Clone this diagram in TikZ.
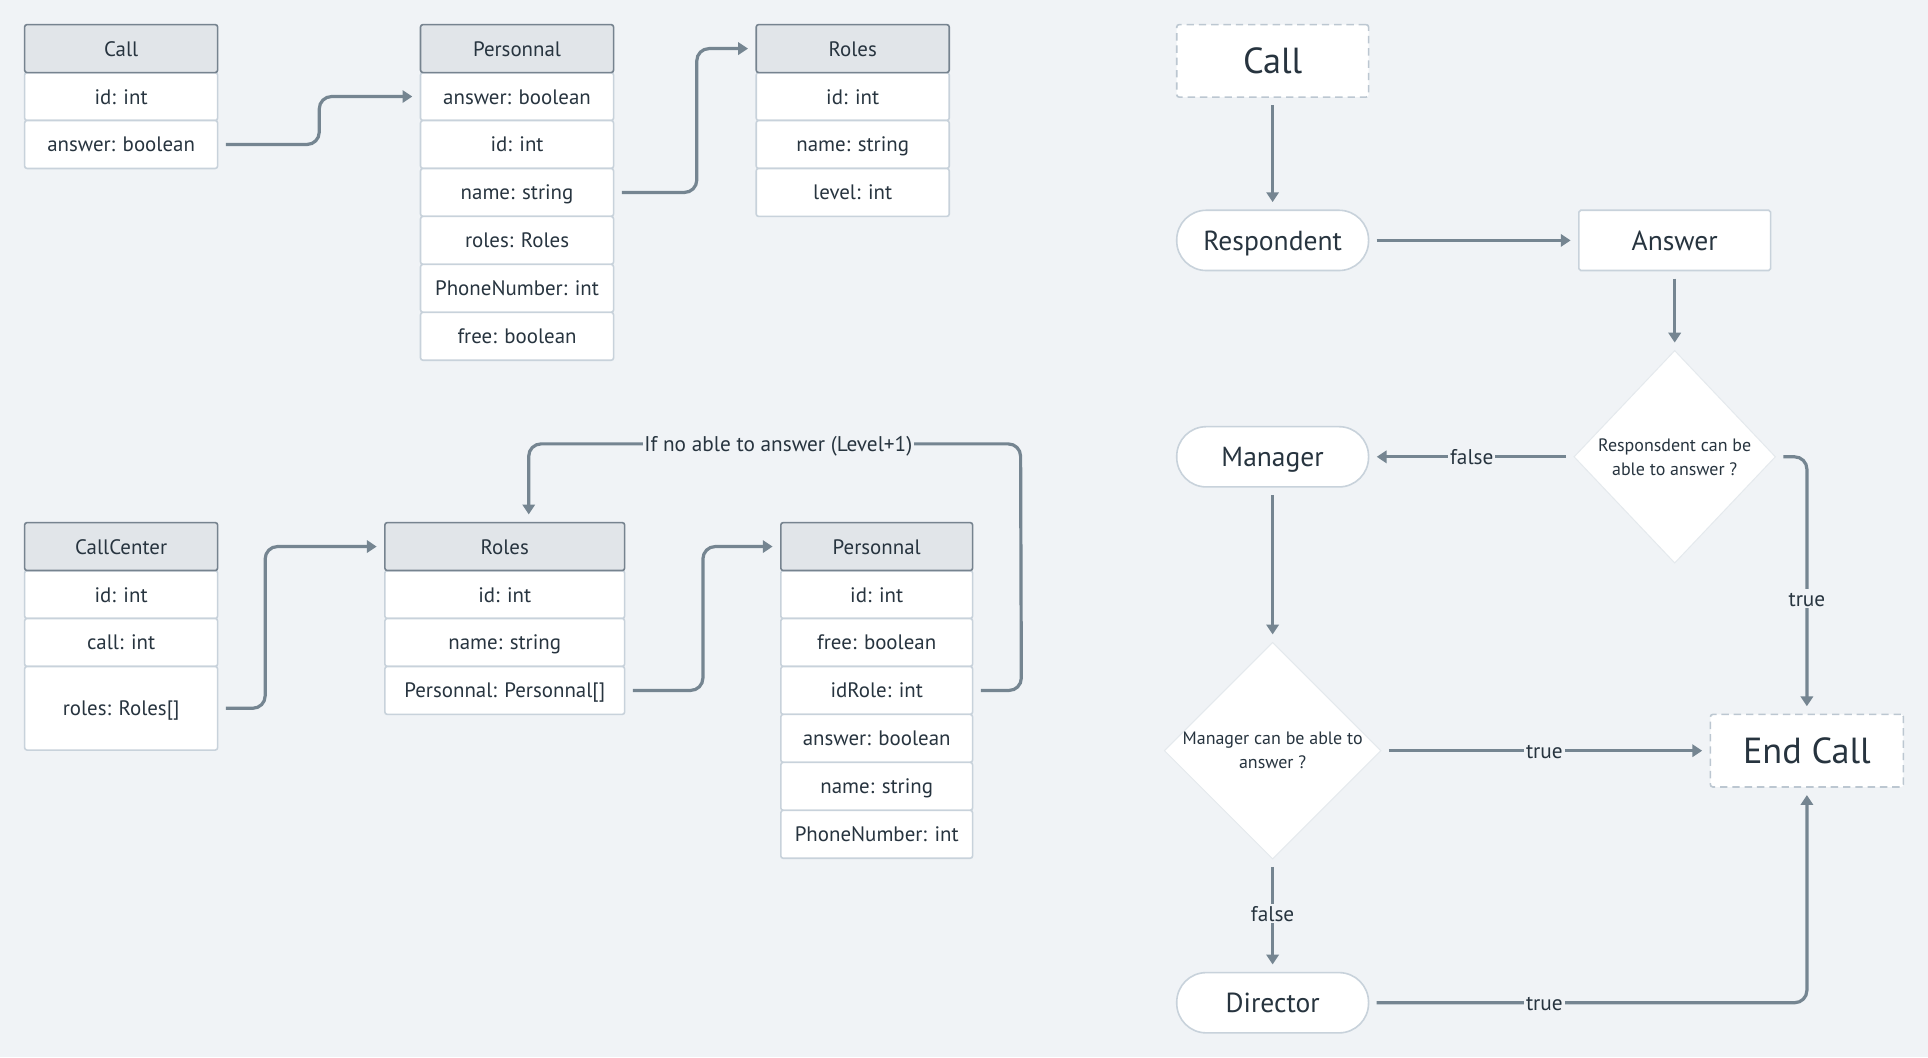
\documentclass[tikz,border=0pt]{standalone}
\usepackage{fontspec}
\setmainfont{PT Sans}
\usetikzlibrary{arrows.meta,shapes.geometric}
\definecolor{bg}{HTML}{F0F3F6}
\definecolor{hdrfill}{HTML}{E1E5E9}
\definecolor{hdrline}{HTML}{76838F}
\definecolor{rowline}{HTML}{C8D2DB}
\definecolor{dashline}{HTML}{BCC7D1}
\definecolor{wire}{HTML}{758591}
\definecolor{ink}{HTML}{27343F}
\definecolor{diaedge}{HTML}{E4E9ED}

\tikzset{
  cell/.style={inner sep=0pt, rounded corners=2pt, line width=1.3pt, text=ink,
    minimum height=39pt, text height=12.2pt, text depth=0pt,
    font=\fontsize{17}{20}\selectfont},
  hdr/.style={cell, draw=hdrline, fill=hdrfill},
  row/.style={cell, draw=rowline, fill=white},
  conn/.style={draw=wire, line width=2.6pt, rounded corners=10pt,
    -{Triangle[length=8pt,width=10pt]}, shorten <=6pt, shorten >=6pt},
  lbl/.style={fill=bg, text=ink, inner sep=1.5pt, text height=12.4pt, text depth=0pt,
    font=\fontsize{17.3}{20}\selectfont},
  termbox/.style={draw=dashline, fill=white, line width=1.3pt, dash pattern=on 6pt off 4pt,
    rounded corners=2pt, minimum width=156pt, minimum height=59pt, text=ink,
    text height=21pt, text depth=0pt, font=\fontsize{29.5}{34}\selectfont},
  stadium/.style={draw=rowline, fill=white, line width=1.3pt, rounded corners=24pt,
    minimum width=156pt, minimum height=49pt, text=ink, text height=16pt, text depth=0pt,
    font=\fontsize{22.4}{26}\selectfont},
  procbox/.style={stadium, rounded corners=1.5pt},
  decision/.style={diamond, draw=diaedge, fill=white, line width=0.8pt, inner sep=0pt,
    align=center, text=ink, font=\fontsize{14.6}{19.5}\selectfont}
}

\begin{document}
\begin{tikzpicture}[x=1pt, y=-1pt]
\fill[bg] (0,0) rectangle (1568,860);
\useasboundingbox (0,0) rectangle (1568,860);

% ---- class Call (top left)
\node[row, minimum width=157pt] (cId)  at (98.5,78.5)  {id: int};
\node[row, minimum width=157pt] (cAns) at (98.5,117.5) {answer: boolean};
\node[hdr, minimum width=157pt] (cH)   at (98.5,39.5)  {Call};

% ---- class Personnal (top)
\node[row, minimum width=157pt] (pAns)   at (420.5,78.5)  {answer: boolean};
\node[row, minimum width=157pt] (pId)    at (420.5,117.5) {id: int};
\node[row, minimum width=157pt] (pName)  at (420.5,156.5) {name: string};
\node[row, minimum width=157pt] (pRoles) at (420.5,195.5) {roles: Roles};
\node[row, minimum width=157pt] (pPhone) at (420.5,234.5) {PhoneNumber: int};
\node[row, minimum width=157pt] (pFree)  at (420.5,273.5) {free: boolean};
\node[hdr, minimum width=157pt] (pH)     at (420.5,39.5)  {Personnal};

% ---- class Roles (top)
\node[row, minimum width=157pt] (rId)    at (693.5,78.5)  {id: int};
\node[row, minimum width=157pt] (rName)  at (693.5,117.5) {name: string};
\node[row, minimum width=157pt] (rLevel) at (693.5,156.5) {level: int};
\node[hdr, minimum width=157pt] (rH)     at (693.5,39.5)  {Roles};

% ---- class CallCenter
\node[row, minimum width=157pt] (ccId)    at (98.5,483.5) {id: int};
\node[row, minimum width=157pt] (ccCall)  at (98.5,522.5) {call: int};
\node[row, minimum width=157pt, minimum height=68pt] (ccRoles) at (98.5,576) {roles: Roles[]};
\node[hdr, minimum width=157pt] (ccH)     at (98.5,444.5) {CallCenter};

% ---- class Roles (bottom)
\node[row, minimum width=195pt] (r2Id)   at (410.5,483.5) {id: int};
\node[row, minimum width=195pt] (r2Name) at (410.5,522.5) {name: string};
\node[row, minimum width=195pt] (r2Pers) at (410.5,561.5) {Personnal: Personnal[]};
\node[hdr, minimum width=195pt] (r2H)    at (410.5,444.5) {Roles};

% ---- class Personnal (bottom)
\node[row, minimum width=156pt] (p2Id)    at (713,483.5) {id: int};
\node[row, minimum width=156pt] (p2Free)  at (713,522.5) {free: boolean};
\node[row, minimum width=156pt] (p2Role)  at (713,561.5) {idRole: int};
\node[row, minimum width=156pt] (p2Ans)   at (713,600.5) {answer: boolean};
\node[row, minimum width=156pt] (p2Name)  at (713,639.5) {name: string};
\node[row, minimum width=156pt] (p2Phone) at (713,678.5) {PhoneNumber: int};
\node[hdr, minimum width=156pt] (p2H)     at (713,444.5) {Personnal};

% ---- class links
\draw[conn] (cAns.east) -- ++(82,0) |- (pAns.west);
\draw[conn] (pName.east) -- ++(67,0) |- (rH.west);
\draw[conn] (ccRoles.east) -- ++(38,0) |- (r2H.west);
\draw[conn] (r2Pers.east) -- ++(63,0) |- (p2H.west);
\coordinate (loopTop) at (830,361);
\draw[conn] (p2Role.east) -- ++(39,0) -- (loopTop) -| ([xshift=19.5pt]r2H.north);
\node[lbl] (loopLbl) at (633,361) {If no able to answer (Level+1)};

% ---- flowchart
\node[termbox] (fCall) at (1035,49.5) {Call};
\node[stadium] (fResp) at (1035,195.5) {Respondent};
\node[procbox] (fAns)  at (1362,195.5) {Answer};
\node[decision, minimum width=164pt, minimum height=173pt] (d1) at (1362,371.5)
  {Responsdent can be\\able to answer ?};
\node[stadium] (fMgr) at (1035,371.5) {Manager};
\node[decision, minimum width=174pt, minimum height=173pt] (d2) at (1035,610.5)
  {Manager can be able to\\answer ?};
\node[termbox, minimum width=157pt] (fEnd) at (1469.5,610.5) {End Call};
\node[stadium] (fDir) at (1035,815.5) {Director};

\draw[conn] (fCall.south) -- (fResp.north);
\draw[conn] (fResp.east) -- (fAns.west);
\draw[conn] (fAns.south) -- (d1.north);
\draw[conn] (d1.west) -- (fMgr.east);
\node[lbl] (lF1) at (1197,371.5) {false};
\draw[conn] (d1.east) -| (fEnd.north);
\node[lbl] (lT1) at (1469.5,487) {true};
\draw[conn] (fMgr.south) -- (d2.north);
\draw[conn] (d2.east) -- (fEnd.west);
\node[lbl] (lT2) at (1256,610.5) {true};
\draw[conn] (d2.south) -- (fDir.north);
\node[lbl] (lF2) at (1035,743) {false};
\draw[conn] (fDir.east) -| (fEnd.south);
\node[lbl] (lT3) at (1256,815.5) {true};
\end{tikzpicture}
\end{document}
